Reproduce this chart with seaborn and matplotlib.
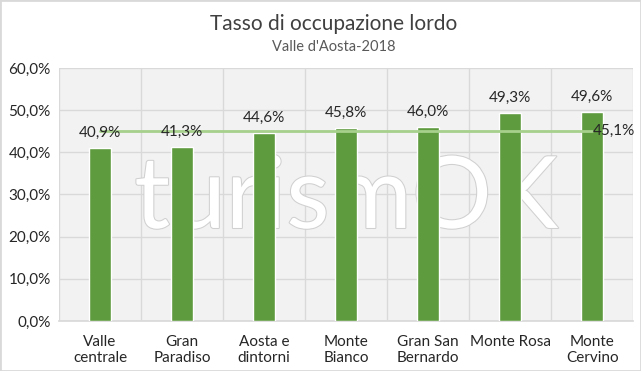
import matplotlib
matplotlib.use("Agg")
import matplotlib.pyplot as plt
import matplotlib.patheffects as pe
from matplotlib.patches import Rectangle
from matplotlib.ticker import FuncFormatter, FixedLocator
import seaborn as sns
import pandas as pd

# ── Data ──────────────────────────────────────────────────────────────────────
CATEGORIES = ["Valle\ncentrale", "Gran\nParadiso", "Aosta e\ndintorni", "Monte\nBianco",
              "Gran San\nBernardo", "Monte Rosa", "Monte\nCervino"]
OCCUPANCY = [0.409, 0.413, 0.446, 0.458, 0.460, 0.493, 0.496]
AVERAGE = 0.451

BAR_COLOR = "#5e9a3e"
LINE_COLOR = "#a6d08c"
TEXT_COLOR = "#262626"

sns.set_theme(style="whitegrid")
plt.rcParams["font.family"] = ["Lato", "DejaVu Sans"]


def pct(v):
    return f"{v * 100:.1f}%".replace(".", ",")


df = pd.DataFrame({"zona": CATEGORIES, "tasso": OCCUPANCY})

fig = plt.figure(figsize=(6.41, 3.71), dpi=100)
ax = fig.add_axes([0.092, 0.135, 0.896, 0.682])
ax.set_facecolor("#f2f2f2")

sns.barplot(data=df, x="zona", y="tasso", color=BAR_COLOR, width=0.27,
            saturation=1, ax=ax, zorder=3)

# average line from first to last category
ax.plot([0, len(CATEGORIES) - 1], [AVERAGE, AVERAGE], color=LINE_COLOR,
        linewidth=2, zorder=4)
ax.text(len(CATEGORIES) - 1, AVERAGE, pct(AVERAGE), ha="left", va="center",
        fontsize=11, color=TEXT_COLOR, zorder=5)

for i, v in enumerate(OCCUPANCY):
    ax.text(i, v + 0.036, pct(v), ha="center", va="center",
            fontsize=11, color=TEXT_COLOR, zorder=5)

# watermark
ax.text(0.5, 0.48, "turismOK", transform=ax.transAxes, ha="center", va="center",
        fontsize=72, color="white", zorder=2,
        path_effects=[pe.withStroke(linewidth=1.5, foreground="#d0d0d0")])

ax.set_ylim(0, 0.6)
ax.set_xlim(-0.5, len(CATEGORIES) - 0.5)
ax.yaxis.set_major_locator(FixedLocator([i / 10 for i in range(7)]))
ax.yaxis.set_major_formatter(FuncFormatter(lambda y, _: pct(y)))
ax.xaxis.set_minor_locator(FixedLocator([i + 0.5 for i in range(-1, len(CATEGORIES))]))
ax.grid(False)
ax.grid(axis="y", which="major", color="#d9d9d9", linewidth=1, zorder=1)
ax.grid(axis="x", which="minor", color="#d9d9d9", linewidth=1, zorder=1)
ax.set_axisbelow(True)
ax.tick_params(axis="both", which="both", length=0, labelsize=11, colors=TEXT_COLOR)
ax.tick_params(axis="x", pad=10)
ax.tick_params(axis="y", pad=6)
ax.set_xlabel("")
ax.set_ylabel("")
for side in ["top", "right", "left"]:
    ax.spines[side].set_visible(False)
ax.spines["bottom"].set_color("#d9d9d9")

fig.text(0.52, 0.935, "Tasso di occupazione lordo", ha="center", va="center",
         fontsize=15, color="#404040")
fig.text(0.52, 0.872, "Valle d'Aosta-2018", ha="center", va="center",
         fontsize=10.5, color="#595959")

fig.patches.append(Rectangle((0, 0), 1, 1, transform=fig.transFigure, fill=False,
                             edgecolor="#d9d9d9", linewidth=2))

fig.savefig("out.png", dpi=100)
